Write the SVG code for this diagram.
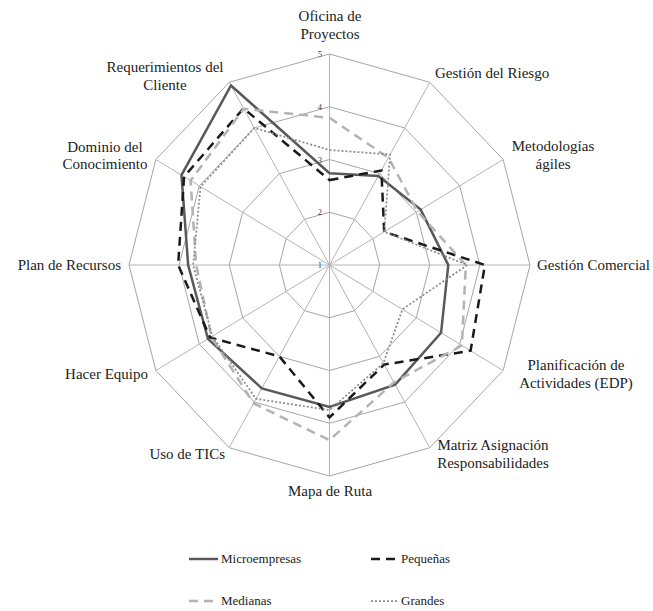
<svg xmlns="http://www.w3.org/2000/svg" width="653" height="611" viewBox="0 0 653 611">
<style>
  .bg { fill: #ffffff; }
  .ring { fill: none; stroke: #a6a6a6; stroke-width: 1; }
  .spoke { stroke: #b4b4b4; stroke-width: 1; }
  .lbl { font-size: 15px; fill: #222222; }
  .tick { font-size: 8.5px; fill: #404040; text-anchor: end; }
  .leg { font-size: 13px; fill: #222222; }
  .micro { fill: none; stroke: #595959; stroke-width: 2.5; stroke-linejoin: miter; }
  .peq { fill: none; stroke: #1a1a1a; stroke-width: 2.5; stroke-dasharray: 9 6; }
  .med { fill: none; stroke: #b3b3b3; stroke-width: 2.5; stroke-dasharray: 9 6; }
  .gra { fill: none; stroke: #8c8c8c; stroke-width: 1.75; stroke-dasharray: 2 2; }
</style>
<rect class="bg" x="0" y="0" width="653" height="611"/>

<g id="grid" font-family="Liberation Serif, DejaVu Serif, serif">
  <polygon class="ring" points="329.5,212.25 354.56,219.32 372.91,238.62 379.63,265 372.91,291.38 354.56,310.68 329.5,317.75 304.44,310.68 286.09,291.38 279.37,265 286.09,238.62 304.44,219.32"/>
  <polygon class="ring" points="329.5,159.5 379.63,173.63 416.32,212.25 429.75,265 416.32,317.75 379.63,356.37 329.5,370.5 279.37,356.37 242.68,317.75 229.25,265 242.68,212.25 279.37,173.63"/>
  <polygon class="ring" points="329.5,106.75 404.69,127.95 459.73,185.87 479.88,265 459.73,344.13 404.69,402.05 329.5,423.25 254.31,402.05 199.27,344.13 179.12,265 199.27,185.87 254.31,127.95"/>
  <polygon class="ring" points="329.5,54 429.75,82.27 503.14,159.5 530,265 503.14,370.5 429.75,447.73 329.5,476 229.25,447.73 155.86,370.5 129,265 155.86,159.5 229.25,82.27"/>
  <line class="spoke" x1="329.5" y1="265" x2="329.5" y2="54"/>
  <line class="spoke" x1="329.5" y1="265" x2="429.75" y2="82.27"/>
  <line class="spoke" x1="329.5" y1="265" x2="503.14" y2="159.5"/>
  <line class="spoke" x1="329.5" y1="265" x2="530" y2="265"/>
  <line class="spoke" x1="329.5" y1="265" x2="503.14" y2="370.5"/>
  <line class="spoke" x1="329.5" y1="265" x2="429.75" y2="447.73"/>
  <line class="spoke" x1="329.5" y1="265" x2="329.5" y2="476"/>
  <line class="spoke" x1="329.5" y1="265" x2="229.25" y2="447.73"/>
  <line class="spoke" x1="329.5" y1="265" x2="155.86" y2="370.5"/>
  <line class="spoke" x1="329.5" y1="265" x2="129" y2="265"/>
  <line class="spoke" x1="329.5" y1="265" x2="155.86" y2="159.5"/>
  <line class="spoke" x1="329.5" y1="265" x2="229.25" y2="82.27"/>
  <text class="tick" x="322" y="57">5</text>
  <text class="tick" x="322" y="109.5">4</text>
  <text class="tick" x="322" y="162.5">3</text>
  <text class="tick" x="322" y="215">2</text>
  <text class="tick" x="322" y="268">1</text>
</g>

<g id="series">
  <polygon id="s-micro" class="micro" points="329.5,173.21 378.37,175.92 420.66,209.61 448.3,265 441.06,332.78 395.16,384.69 329.5,406.9 261.83,388.34 207.95,338.85 188.15,265 181.47,175.06 231,85.47"/>
  <polygon id="s-peq" class="peq" points="329.5,180.07 381.38,170.44 384.2,231.77 484.89,265 470.58,350.72 384.14,364.59 329.5,417.45 279.37,356.37 210.12,337.53 178.12,265 184.08,176.64 243.54,108.31"/>
  <polygon id="s-med" class="med" points="329.5,117.83 388.4,157.65 417.62,211.46 465.84,265 461.9,345.44 393.91,382.4 329.5,440.13 253.56,403.42 211.42,336.74 196.17,265 190.59,180.6 243.79,108.77"/>
  <polygon id="s-gra" class="gra" points="329.5,150 390.15,154.45 384.2,231.77 467.34,265 402.43,309.31 383.38,363.22 329.5,410.06 256.07,398.85 212.29,336.21 193.16,265 200.57,186.67 254.31,127.95"/>
</g>

<g id="axis-labels" font-family="Liberation Serif, DejaVu Serif, serif">
  <text class="lbl" x="330" y="21" text-anchor="middle">Oficina de</text>
  <text class="lbl" x="330" y="39" text-anchor="middle">Proyectos</text>
  <text class="lbl" x="435" y="78">Gestión del Riesgo</text>
  <text class="lbl" x="553" y="151" text-anchor="middle">Metodologías</text>
  <text class="lbl" x="553" y="169" text-anchor="middle">ágiles</text>
  <text class="lbl" x="537" y="270">Gestión Comercial</text>
  <text class="lbl" x="576" y="370" text-anchor="middle">Planificación de</text>
  <text class="lbl" x="576" y="388" text-anchor="middle">Actividades (EDP)</text>
  <text class="lbl" x="493" y="450" text-anchor="middle">Matriz Asignación</text>
  <text class="lbl" x="493" y="468" text-anchor="middle">Responsabilidades</text>
  <text class="lbl" x="330" y="496" text-anchor="middle">Mapa de Ruta</text>
  <text class="lbl" x="225" y="459" text-anchor="end">Uso de TICs</text>
  <text class="lbl" x="148" y="379" text-anchor="end">Hacer Equipo</text>
  <text class="lbl" x="121" y="270" text-anchor="end">Plan de Recursos</text>
  <text class="lbl" x="105" y="152" text-anchor="middle">Dominio del</text>
  <text class="lbl" x="105" y="169" text-anchor="middle">Conocimiento</text>
  <text class="lbl" x="165" y="72" text-anchor="middle">Requerimientos del</text>
  <text class="lbl" x="165" y="90" text-anchor="middle">Cliente</text>
</g>

<g id="legend" font-family="Liberation Serif, DejaVu Serif, serif">
  <line class="micro" x1="189" y1="559" x2="218" y2="559"/>
  <text class="leg" x="221" y="563">Microempresas</text>
  <line class="peq" x1="371" y1="559" x2="397" y2="559" stroke-dasharray="9 8"/>
  <text class="leg" x="401" y="563">Pequeñas</text>
  <line class="med" x1="189" y1="601" x2="215" y2="601" stroke-dasharray="9 8"/>
  <text class="leg" x="221" y="605">Medianas</text>
  <line class="gra" x1="371" y1="601" x2="397" y2="601"/>
  <text class="leg" x="401" y="605">Grandes</text>
</g>
</svg>
